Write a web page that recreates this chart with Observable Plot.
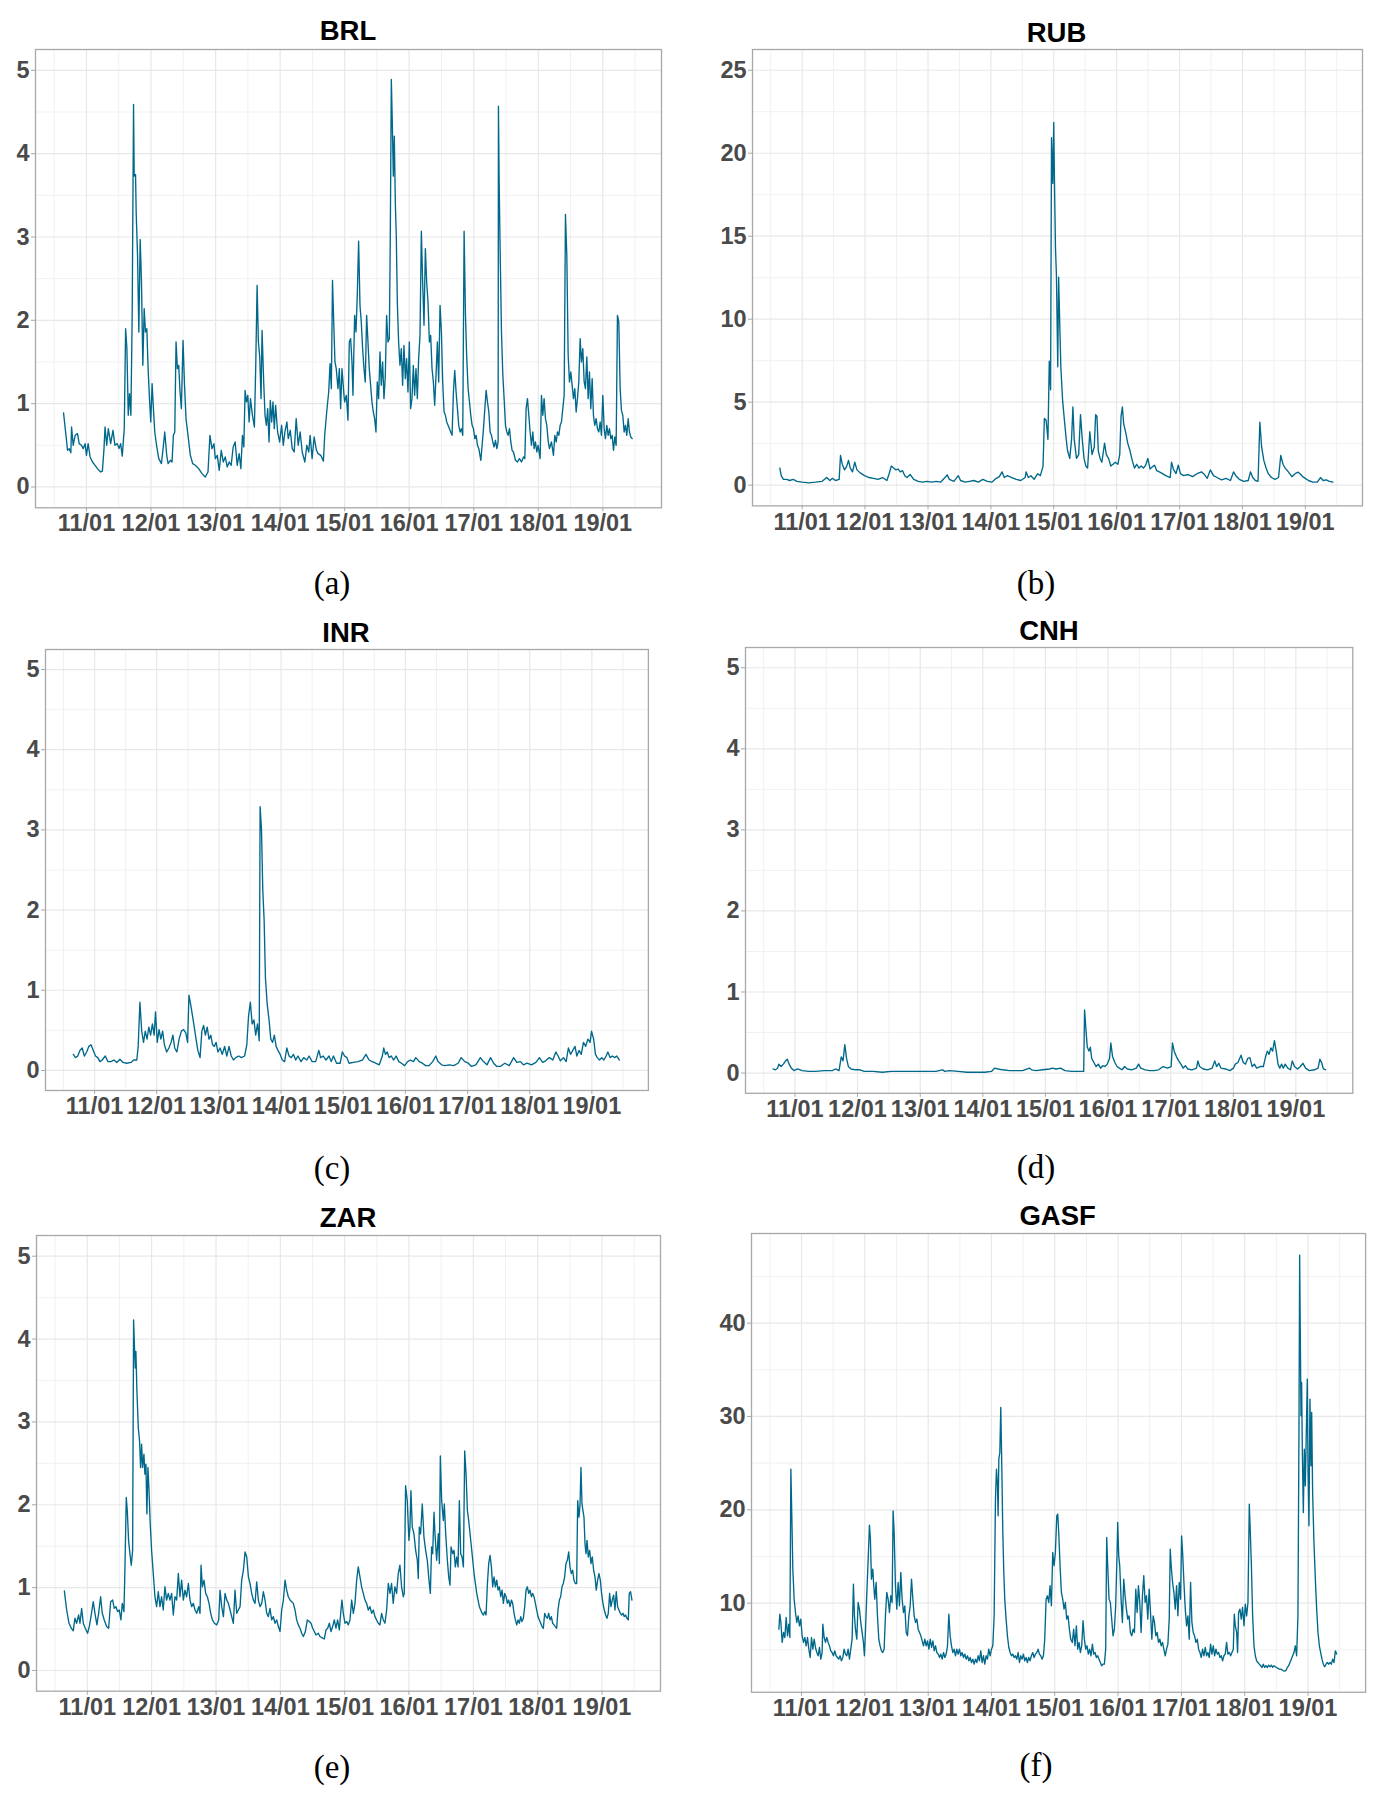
<!DOCTYPE html>
<html>
<head>
<meta charset="utf-8">
<script src="https://cdn.jsdelivr.net/npm/d3@7"></script>
<script src="https://cdn.jsdelivr.net/npm/@observablehq/plot@0.6"></script>
<style>
  body { margin: 0; background: #fff; }
  #page { position: relative; width: 1390px; height: 1799px; background: #fff; overflow: hidden; }
  .panel { position: absolute; }
  .title { position: absolute; transform: translate(-50%, -50%); font-family: "Liberation Sans", Arial, sans-serif; font-weight: bold; font-size: 27.5px; line-height: 1; color: #000; white-space: nowrap; }
  .tag { position: absolute; transform: translate(-50%, -50%); font-family: "Liberation Serif", "Times New Roman", serif; font-size: 33px; line-height: 1; color: #000; white-space: nowrap; }
</style>
</head>
<body>
<div id="page"></div>
<script>
// ---- data: [decimal year, value] ----
const BRL = [[2010.645,0.89],[2010.671,0.70],[2010.707,0.44],[2010.733,0.46],[2010.758,0.41],[2010.769,0.72],[2010.794,0.50],[2010.825,0.62],[2010.861,0.64],[2010.887,0.52],[2010.923,0.50],[2010.949,0.46],[2010.979,0.52],[2011.000,0.38],[2011.026,0.52],[2011.057,0.36],[2011.093,0.30],[2011.134,0.26],[2011.170,0.22],[2011.221,0.18],[2011.247,0.19],[2011.272,0.46],[2011.288,0.72],[2011.314,0.50],[2011.339,0.70],[2011.375,0.52],[2011.411,0.68],[2011.442,0.50],[2011.478,0.52],[2011.504,0.46],[2011.530,0.52],[2011.555,0.37],[2011.586,0.70],[2011.607,1.90],[2011.627,1.66],[2011.648,0.86],[2011.668,1.12],[2011.689,0.86],[2011.709,2.06],[2011.730,4.59],[2011.740,3.73],[2011.761,3.75],[2011.771,3.29],[2011.792,2.78],[2011.812,1.86],[2011.833,2.97],[2011.853,2.46],[2011.874,1.46],[2011.895,2.14],[2011.915,1.86],[2011.936,1.90],[2011.956,1.42],[2011.977,1.06],[2011.997,0.78],[2012.018,1.24],[2012.038,0.94],[2012.059,0.66],[2012.090,0.48],[2012.121,0.34],[2012.162,0.28],[2012.193,0.50],[2012.213,0.66],[2012.244,0.38],[2012.265,0.28],[2012.301,0.32],[2012.326,0.30],[2012.347,0.62],[2012.368,0.66],[2012.388,1.74],[2012.409,1.42],[2012.429,1.46],[2012.450,1.14],[2012.470,0.94],[2012.496,1.76],[2012.517,1.26],[2012.542,0.82],[2012.573,0.62],[2012.609,0.38],[2012.645,0.28],[2012.686,0.26],[2012.738,0.22],[2012.789,0.16],[2012.840,0.12],[2012.882,0.18],[2012.912,0.62],[2012.943,0.46],[2012.974,0.52],[2012.995,0.34],[2013.026,0.38],[2013.056,0.20],[2013.087,0.44],[2013.118,0.30],[2013.149,0.36],[2013.180,0.24],[2013.211,0.30],[2013.241,0.26],[2013.272,0.48],[2013.303,0.54],[2013.334,0.26],[2013.365,0.40],[2013.391,0.22],[2013.416,0.62],[2013.437,0.48],[2013.457,1.16],[2013.478,1.02],[2013.499,1.10],[2013.519,0.78],[2013.540,1.06],[2013.571,0.86],[2013.601,0.72],[2013.622,1.46],[2013.643,2.42],[2013.663,1.74],[2013.684,1.56],[2013.704,1.06],[2013.720,1.88],[2013.745,1.26],[2013.766,0.86],[2013.787,0.74],[2013.807,0.94],[2013.828,0.54],[2013.848,1.04],[2013.869,0.78],[2013.889,1.02],[2013.910,0.70],[2013.930,0.98],[2013.961,0.66],[2013.992,0.54],[2014.023,0.74],[2014.049,0.50],[2014.074,0.66],[2014.105,0.78],[2014.126,0.58],[2014.157,0.68],[2014.188,0.46],[2014.218,0.42],[2014.249,0.82],[2014.280,0.50],[2014.311,0.66],[2014.342,0.42],[2014.383,0.30],[2014.414,0.50],[2014.444,0.42],[2014.465,0.62],[2014.496,0.34],[2014.527,0.60],[2014.563,0.44],[2014.588,0.40],[2014.630,0.38],[2014.671,0.31],[2014.691,0.62],[2014.722,0.90],[2014.753,1.14],[2014.774,1.48],[2014.794,1.18],[2014.812,2.48],[2014.830,2.00],[2014.850,1.50],[2014.870,1.42],[2014.897,1.18],[2014.918,1.42],[2014.938,0.94],[2014.959,1.42],[2014.990,1.10],[2015.000,1.02],[2015.026,1.10],[2015.052,0.80],[2015.072,1.74],[2015.093,1.78],[2015.114,1.50],[2015.129,1.10],[2015.155,2.06],[2015.176,1.86],[2015.196,2.30],[2015.217,2.95],[2015.238,2.18],[2015.258,1.98],[2015.279,1.66],[2015.300,1.42],[2015.320,1.26],[2015.341,2.06],[2015.362,1.74],[2015.382,1.42],[2015.403,1.22],[2015.424,1.02],[2015.444,0.90],[2015.465,0.82],[2015.486,0.66],[2015.506,1.26],[2015.527,1.06],[2015.548,1.62],[2015.568,1.22],[2015.589,1.50],[2015.610,1.06],[2015.630,1.32],[2015.651,2.06],[2015.672,1.74],[2015.693,1.78],[2015.708,3.01],[2015.724,4.89],[2015.739,4.37],[2015.755,3.73],[2015.770,4.21],[2015.786,3.41],[2015.801,3.01],[2015.817,2.22],[2015.837,1.74],[2015.858,1.46],[2015.879,1.66],[2015.899,1.22],[2015.920,1.70],[2015.941,1.30],[2015.961,1.54],[2015.982,1.14],[2016.003,1.74],[2016.023,0.94],[2016.044,1.06],[2016.065,1.46],[2016.085,1.10],[2016.106,1.42],[2016.127,1.06],[2016.147,1.54],[2016.168,1.82],[2016.189,3.07],[2016.209,2.46],[2016.230,1.94],[2016.251,2.86],[2016.271,2.46],[2016.292,2.22],[2016.313,1.74],[2016.333,1.82],[2016.354,1.42],[2016.375,1.26],[2016.395,0.98],[2016.416,1.34],[2016.437,1.74],[2016.457,1.26],[2016.478,2.18],[2016.499,1.86],[2016.519,1.26],[2016.540,0.90],[2016.561,0.86],[2016.581,0.78],[2016.602,0.74],[2016.623,0.70],[2016.643,0.66],[2016.664,0.62],[2016.685,1.14],[2016.705,1.40],[2016.726,1.14],[2016.747,0.94],[2016.767,0.74],[2016.788,0.66],[2016.809,0.70],[2016.829,0.62],[2016.850,3.07],[2016.871,2.06],[2016.891,1.54],[2016.912,1.18],[2016.933,1.02],[2016.953,0.86],[2016.974,0.74],[2016.995,0.70],[2017.016,0.58],[2017.036,0.62],[2017.057,0.50],[2017.078,0.46],[2017.109,0.32],[2017.129,0.50],[2017.150,0.70],[2017.171,0.94],[2017.191,1.16],[2017.212,1.02],[2017.233,0.90],[2017.253,0.66],[2017.274,0.62],[2017.295,0.54],[2017.315,0.48],[2017.336,0.56],[2017.357,0.46],[2017.377,0.54],[2017.382,4.57],[2017.393,3.65],[2017.408,2.85],[2017.429,1.86],[2017.450,1.34],[2017.470,1.06],[2017.491,0.74],[2017.512,0.66],[2017.532,0.62],[2017.553,0.70],[2017.574,0.54],[2017.594,0.44],[2017.615,0.42],[2017.646,0.32],[2017.677,0.30],[2017.708,0.34],[2017.739,0.30],[2017.770,0.36],[2017.791,0.34],[2017.811,0.94],[2017.832,1.06],[2017.853,0.86],[2017.873,0.66],[2017.894,0.50],[2017.915,0.66],[2017.935,0.46],[2017.956,0.54],[2017.977,0.42],[2017.997,0.50],[2018.028,0.34],[2018.049,1.10],[2018.070,0.86],[2018.090,1.06],[2018.111,0.82],[2018.132,0.74],[2018.152,0.56],[2018.173,0.46],[2018.204,0.54],[2018.235,0.38],[2018.256,0.62],[2018.277,0.54],[2018.297,0.66],[2018.318,0.62],[2018.339,0.74],[2018.359,0.78],[2018.380,0.94],[2018.401,1.10],[2018.421,3.27],[2018.442,2.78],[2018.463,1.58],[2018.483,1.26],[2018.504,1.38],[2018.525,1.22],[2018.545,1.06],[2018.566,1.18],[2018.587,0.90],[2018.607,1.06],[2018.628,1.26],[2018.649,1.78],[2018.669,1.50],[2018.690,1.66],[2018.711,1.26],[2018.731,1.18],[2018.752,1.56],[2018.773,1.06],[2018.793,1.38],[2018.814,0.94],[2018.835,1.30],[2018.855,0.86],[2018.876,0.74],[2018.897,0.82],[2018.917,0.70],[2018.938,0.66],[2018.959,0.78],[2018.979,0.62],[2019.000,1.10],[2019.021,0.70],[2019.041,0.58],[2019.062,0.74],[2019.083,0.62],[2019.103,0.70],[2019.124,0.58],[2019.145,0.62],[2019.166,0.44],[2019.186,0.60],[2019.207,0.50],[2019.227,2.06],[2019.248,1.98],[2019.269,1.18],[2019.289,0.92],[2019.310,0.86],[2019.331,0.66],[2019.351,0.74],[2019.372,0.62],[2019.393,0.82],[2019.413,0.66],[2019.434,0.60],[2019.455,0.58]];

const RUB = [[2010.645,1.03],[2010.667,0.57],[2010.702,0.35],[2010.752,0.35],[2010.801,0.28],[2010.858,0.35],[2010.915,0.23],[2011.000,0.18],[2011.106,0.14],[2011.213,0.18],[2011.319,0.23],[2011.390,0.46],[2011.440,0.28],[2011.482,0.41],[2011.532,0.28],[2011.589,0.35],[2011.610,1.79],[2011.638,1.26],[2011.674,0.92],[2011.709,1.15],[2011.738,1.49],[2011.766,1.03],[2011.801,0.80],[2011.837,1.38],[2011.872,0.92],[2011.922,0.74],[2011.993,0.57],[2012.064,0.46],[2012.135,0.41],[2012.206,0.35],[2012.277,0.46],[2012.348,0.28],[2012.383,0.69],[2012.418,1.15],[2012.454,1.03],[2012.489,0.92],[2012.525,0.97],[2012.560,0.80],[2012.596,0.87],[2012.631,0.57],[2012.667,0.46],[2012.716,0.64],[2012.773,0.35],[2012.844,0.23],[2012.915,0.18],[2012.986,0.23],[2013.057,0.18],[2013.128,0.23],[2013.199,0.18],[2013.270,0.46],[2013.305,0.62],[2013.340,0.35],[2013.411,0.23],[2013.482,0.57],[2013.518,0.28],[2013.589,0.18],[2013.660,0.23],[2013.730,0.28],[2013.801,0.18],[2013.872,0.35],[2013.943,0.23],[2014.014,0.18],[2014.085,0.41],[2014.135,0.51],[2014.177,0.80],[2014.213,0.46],[2014.262,0.57],[2014.333,0.46],[2014.404,0.35],[2014.475,0.28],[2014.546,0.46],[2014.560,0.80],[2014.596,0.46],[2014.638,0.57],[2014.688,0.35],[2014.745,0.69],[2014.787,0.57],[2014.830,1.15],[2014.851,4.02],[2014.879,3.91],[2014.908,2.76],[2014.929,7.47],[2014.950,5.75],[2014.965,20.93],[2014.986,18.17],[2015.000,21.85],[2015.014,17.71],[2015.028,14.26],[2015.043,12.65],[2015.064,7.13],[2015.078,12.53],[2015.099,9.20],[2015.113,7.13],[2015.142,5.06],[2015.170,3.91],[2015.199,2.76],[2015.220,2.07],[2015.255,1.61],[2015.284,2.76],[2015.305,4.71],[2015.326,2.76],[2015.362,1.61],[2015.397,1.84],[2015.426,4.25],[2015.454,2.76],[2015.482,1.61],[2015.511,1.15],[2015.539,1.03],[2015.574,3.22],[2015.610,1.84],[2015.645,2.30],[2015.667,4.25],[2015.688,4.14],[2015.709,2.07],[2015.738,1.61],[2015.766,1.38],[2015.809,2.53],[2015.837,1.84],[2015.872,1.61],[2015.908,1.15],[2015.943,1.26],[2015.979,1.38],[2016.021,1.26],[2016.050,1.84],[2016.071,4.14],[2016.092,4.71],[2016.113,3.68],[2016.142,3.22],[2016.177,2.53],[2016.213,2.07],[2016.248,1.49],[2016.284,1.03],[2016.319,1.26],[2016.355,1.03],[2016.390,1.15],[2016.426,1.03],[2016.461,1.20],[2016.496,1.61],[2016.532,0.97],[2016.567,1.10],[2016.603,1.20],[2016.638,0.87],[2016.709,0.74],[2016.780,0.57],[2016.851,0.46],[2016.872,1.38],[2016.901,0.97],[2016.943,0.69],[2016.979,1.20],[2017.014,0.69],[2017.064,0.57],[2017.135,0.64],[2017.206,0.51],[2017.277,0.69],[2017.348,0.80],[2017.383,0.69],[2017.440,0.41],[2017.489,0.92],[2017.539,0.57],[2017.596,0.46],[2017.667,0.32],[2017.738,0.41],[2017.809,0.28],[2017.858,0.80],[2017.894,0.57],[2017.950,0.35],[2018.021,0.23],[2018.092,0.28],[2018.128,0.80],[2018.163,0.46],[2018.206,0.28],[2018.248,0.23],[2018.277,3.80],[2018.305,2.30],[2018.340,1.49],[2018.376,1.03],[2018.411,0.69],[2018.461,0.46],[2018.518,0.35],[2018.574,0.46],[2018.610,1.79],[2018.645,1.26],[2018.681,1.03],[2018.730,0.80],[2018.787,0.51],[2018.837,0.69],[2018.887,0.78],[2018.929,0.64],[2018.957,0.51],[2019.000,0.41],[2019.050,0.28],[2019.121,0.18],[2019.191,0.18],[2019.241,0.46],[2019.284,0.28],[2019.333,0.32],[2019.383,0.23],[2019.440,0.18]];

const INR = [[2010.657,0.20],[2010.693,0.16],[2010.729,0.18],[2010.764,0.25],[2010.800,0.28],[2010.836,0.18],[2010.872,0.23],[2010.907,0.30],[2010.943,0.32],[2010.979,0.25],[2011.015,0.18],[2011.051,0.16],[2011.086,0.11],[2011.122,0.13],[2011.172,0.18],[2011.215,0.11],[2011.265,0.11],[2011.315,0.13],[2011.358,0.10],[2011.408,0.14],[2011.458,0.10],[2011.516,0.09],[2011.587,0.10],[2011.630,0.13],[2011.680,0.13],[2011.702,0.30],[2011.730,0.85],[2011.759,0.49],[2011.788,0.35],[2011.816,0.49],[2011.845,0.39],[2011.873,0.54],[2011.902,0.44],[2011.931,0.58],[2011.959,0.44],[2011.981,0.73],[2012.009,0.35],[2012.038,0.51],[2012.067,0.39],[2012.095,0.49],[2012.124,0.32],[2012.160,0.23],[2012.196,0.28],[2012.231,0.35],[2012.260,0.44],[2012.289,0.28],[2012.324,0.23],[2012.360,0.39],[2012.396,0.49],[2012.432,0.51],[2012.467,0.47],[2012.496,0.35],[2012.518,0.94],[2012.546,0.82],[2012.575,0.68],[2012.603,0.54],[2012.632,0.39],[2012.661,0.25],[2012.696,0.16],[2012.725,0.49],[2012.754,0.56],[2012.782,0.44],[2012.811,0.54],[2012.840,0.39],[2012.868,0.44],[2012.897,0.32],[2012.925,0.30],[2012.954,0.35],[2012.983,0.23],[2013.018,0.28],[2013.054,0.20],[2013.090,0.30],[2013.126,0.18],[2013.162,0.30],[2013.197,0.18],[2013.233,0.13],[2013.269,0.16],[2013.319,0.18],[2013.362,0.16],[2013.412,0.18],[2013.448,0.32],[2013.476,0.68],[2013.505,0.85],[2013.534,0.58],[2013.562,0.63],[2013.591,0.44],[2013.620,0.58],[2013.648,0.37],[2013.662,3.29],[2013.684,3.01],[2013.705,2.25],[2013.727,1.87],[2013.748,1.15],[2013.777,0.82],[2013.806,0.63],[2013.834,0.39],[2013.863,0.35],[2013.891,0.44],[2013.920,0.30],[2013.949,0.25],[2013.985,0.20],[2014.020,0.13],[2014.056,0.11],[2014.092,0.28],[2014.128,0.18],[2014.163,0.16],[2014.199,0.20],[2014.235,0.13],[2014.271,0.18],[2014.321,0.11],[2014.364,0.16],[2014.414,0.13],[2014.450,0.18],[2014.500,0.11],[2014.557,0.11],[2014.607,0.25],[2014.636,0.16],[2014.679,0.18],[2014.722,0.13],[2014.772,0.18],[2014.807,0.11],[2014.843,0.18],[2014.893,0.09],[2014.951,0.09],[2014.986,0.23],[2015.022,0.18],[2015.058,0.16],[2015.094,0.09],[2015.165,0.10],[2015.237,0.11],[2015.308,0.13],[2015.366,0.20],[2015.416,0.13],[2015.466,0.11],[2015.523,0.09],[2015.580,0.07],[2015.630,0.18],[2015.652,0.28],[2015.680,0.20],[2015.709,0.23],[2015.738,0.16],[2015.774,0.18],[2015.809,0.13],[2015.852,0.18],[2015.895,0.11],[2015.938,0.09],[2015.988,0.06],[2016.038,0.11],[2016.081,0.13],[2016.131,0.11],[2016.167,0.16],[2016.224,0.11],[2016.274,0.09],[2016.325,0.06],[2016.382,0.06],[2016.439,0.11],[2016.489,0.18],[2016.525,0.11],[2016.582,0.07],[2016.632,0.06],[2016.704,0.07],[2016.775,0.06],[2016.847,0.09],[2016.897,0.16],[2016.954,0.11],[2017.011,0.09],[2017.062,0.05],[2017.133,0.07],[2017.205,0.16],[2017.255,0.11],[2017.312,0.07],[2017.369,0.16],[2017.419,0.09],[2017.469,0.05],[2017.527,0.05],[2017.598,0.09],[2017.670,0.06],[2017.741,0.16],[2017.791,0.10],[2017.849,0.11],[2017.899,0.07],[2017.956,0.09],[2018.028,0.07],[2018.099,0.10],[2018.156,0.16],[2018.207,0.10],[2018.257,0.12],[2018.314,0.16],[2018.371,0.13],[2018.421,0.23],[2018.457,0.18],[2018.493,0.12],[2018.543,0.16],[2018.586,0.11],[2018.622,0.28],[2018.657,0.20],[2018.693,0.25],[2018.729,0.30],[2018.758,0.18],[2018.793,0.25],[2018.829,0.20],[2018.865,0.35],[2018.901,0.30],[2018.936,0.39],[2018.972,0.35],[2018.994,0.49],[2019.029,0.39],[2019.058,0.20],[2019.087,0.16],[2019.123,0.13],[2019.158,0.16],[2019.194,0.13],[2019.230,0.18],[2019.258,0.23],[2019.294,0.16],[2019.330,0.18],[2019.366,0.16],[2019.401,0.18],[2019.444,0.13]];

const CNH = [[2010.651,0.05],[2010.687,0.04],[2010.722,0.06],[2010.744,0.11],[2010.779,0.08],[2010.815,0.11],[2010.850,0.15],[2010.879,0.17],[2010.907,0.11],[2010.943,0.06],[2010.986,0.03],[2011.043,0.05],[2011.114,0.03],[2011.221,0.02],[2011.327,0.02],[2011.470,0.03],[2011.598,0.03],[2011.648,0.05],[2011.705,0.03],[2011.740,0.20],[2011.769,0.15],[2011.797,0.35],[2011.825,0.18],[2011.854,0.08],[2011.897,0.05],[2011.968,0.04],[2012.039,0.04],[2012.110,0.02],[2012.253,0.02],[2012.395,0.01],[2012.537,0.02],[2012.680,0.02],[2012.822,0.02],[2012.964,0.02],[2013.107,0.02],[2013.249,0.02],[2013.356,0.04],[2013.391,0.02],[2013.462,0.03],[2013.605,0.02],[2013.747,0.01],[2013.890,0.01],[2014.032,0.01],[2014.138,0.02],[2014.188,0.06],[2014.245,0.05],[2014.316,0.04],[2014.423,0.03],[2014.530,0.03],[2014.637,0.03],[2014.743,0.06],[2014.779,0.04],[2014.850,0.03],[2014.957,0.04],[2015.064,0.05],[2015.113,0.06],[2015.170,0.05],[2015.242,0.06],[2015.313,0.03],[2015.419,0.02],[2015.526,0.02],[2015.612,0.02],[2015.626,0.78],[2015.647,0.55],[2015.669,0.32],[2015.697,0.27],[2015.718,0.32],[2015.740,0.18],[2015.775,0.13],[2015.811,0.08],[2015.846,0.11],[2015.882,0.06],[2015.918,0.09],[2015.953,0.08],[2015.989,0.11],[2016.025,0.18],[2016.046,0.37],[2016.074,0.20],[2016.110,0.13],[2016.145,0.08],[2016.181,0.06],[2016.224,0.04],[2016.266,0.08],[2016.309,0.05],[2016.380,0.04],[2016.452,0.06],[2016.487,0.11],[2016.523,0.06],[2016.594,0.04],[2016.665,0.03],[2016.736,0.03],[2016.807,0.04],[2016.879,0.08],[2016.950,0.06],[2017.007,0.08],[2017.028,0.37],[2017.056,0.27],[2017.092,0.20],[2017.128,0.15],[2017.163,0.11],[2017.199,0.06],[2017.234,0.09],[2017.270,0.05],[2017.341,0.04],[2017.412,0.06],[2017.434,0.15],[2017.462,0.08],[2017.519,0.05],[2017.590,0.04],[2017.662,0.06],[2017.704,0.15],[2017.733,0.08],[2017.768,0.12],[2017.804,0.06],[2017.875,0.05],[2017.946,0.03],[2018.003,0.06],[2018.032,0.11],[2018.074,0.13],[2018.124,0.22],[2018.159,0.13],[2018.195,0.11],[2018.231,0.18],[2018.266,0.19],[2018.302,0.08],[2018.337,0.11],[2018.373,0.06],[2018.430,0.08],[2018.480,0.08],[2018.516,0.20],[2018.544,0.27],[2018.572,0.23],[2018.601,0.31],[2018.629,0.27],[2018.658,0.40],[2018.686,0.27],[2018.715,0.11],[2018.743,0.06],[2018.772,0.11],[2018.800,0.06],[2018.829,0.11],[2018.871,0.06],[2018.914,0.04],[2018.943,0.15],[2018.978,0.08],[2019.028,0.05],[2019.071,0.08],[2019.113,0.12],[2019.156,0.06],[2019.213,0.03],[2019.298,0.04],[2019.355,0.06],[2019.384,0.17],[2019.412,0.13],[2019.440,0.05],[2019.476,0.04]];

const ZAR = [[2010.643,0.96],[2010.679,0.73],[2010.715,0.57],[2010.751,0.51],[2010.782,0.48],[2010.808,0.63],[2010.834,0.57],[2010.865,0.67],[2010.886,0.57],[2010.912,0.75],[2010.938,0.57],[2010.969,0.51],[2011.005,0.45],[2011.031,0.53],[2011.057,0.65],[2011.093,0.83],[2011.119,0.69],[2011.150,0.55],[2011.176,0.69],[2011.207,0.89],[2011.233,0.69],[2011.264,0.61],[2011.301,0.53],[2011.332,0.51],[2011.363,0.83],[2011.394,0.85],[2011.420,0.75],[2011.446,0.77],[2011.471,0.71],[2011.497,0.73],[2011.523,0.61],[2011.544,0.81],[2011.570,0.71],[2011.585,1.21],[2011.606,2.09],[2011.622,1.93],[2011.642,1.57],[2011.663,1.41],[2011.684,1.27],[2011.705,1.45],[2011.720,4.23],[2011.736,3.85],[2011.746,3.65],[2011.756,3.85],[2011.772,3.37],[2011.793,2.93],[2011.813,2.77],[2011.829,2.45],[2011.845,2.73],[2011.860,2.45],[2011.881,2.61],[2011.896,2.37],[2011.912,2.49],[2011.927,1.89],[2011.943,2.45],[2011.958,2.21],[2011.979,1.77],[2012.000,1.45],[2012.026,1.17],[2012.052,0.89],[2012.078,0.77],[2012.104,0.95],[2012.130,0.77],[2012.155,0.89],[2012.181,0.73],[2012.207,1.01],[2012.233,0.85],[2012.259,0.93],[2012.285,0.85],[2012.311,0.93],[2012.337,0.67],[2012.363,0.89],[2012.389,0.85],[2012.415,1.17],[2012.440,0.89],[2012.466,1.09],[2012.492,0.85],[2012.518,0.97],[2012.544,0.89],[2012.570,1.05],[2012.596,0.85],[2012.622,0.77],[2012.648,0.81],[2012.674,0.73],[2012.699,0.69],[2012.731,0.77],[2012.751,0.69],[2012.767,1.27],[2012.788,1.01],[2012.813,1.09],[2012.839,0.93],[2012.865,0.89],[2012.891,0.81],[2012.917,0.69],[2012.943,0.61],[2012.974,0.57],[2013.010,0.55],[2013.041,0.61],[2013.062,0.97],[2013.088,0.77],[2013.114,0.65],[2013.140,0.93],[2013.166,0.85],[2013.192,0.81],[2013.218,0.73],[2013.243,0.65],[2013.269,0.57],[2013.295,0.97],[2013.321,0.69],[2013.347,0.73],[2013.373,0.77],[2013.399,1.09],[2013.425,1.21],[2013.451,1.43],[2013.477,1.37],[2013.503,1.13],[2013.528,1.05],[2013.554,0.93],[2013.580,0.85],[2013.606,0.81],[2013.632,1.07],[2013.658,0.85],[2013.684,0.77],[2013.710,0.81],[2013.736,0.95],[2013.762,0.85],[2013.788,0.69],[2013.813,0.65],[2013.839,0.75],[2013.865,0.61],[2013.891,0.65],[2013.917,0.57],[2013.943,0.61],[2013.969,0.53],[2013.995,0.47],[2014.021,0.73],[2014.047,0.85],[2014.073,1.09],[2014.098,0.97],[2014.124,0.89],[2014.150,0.85],[2014.176,0.83],[2014.202,0.81],[2014.228,0.73],[2014.254,0.61],[2014.280,0.55],[2014.306,0.51],[2014.332,0.45],[2014.358,0.41],[2014.389,0.47],[2014.420,0.61],[2014.451,0.59],[2014.477,0.57],[2014.503,0.51],[2014.528,0.47],[2014.554,0.43],[2014.591,0.45],[2014.616,0.41],[2014.658,0.39],[2014.684,0.38],[2014.710,0.49],[2014.736,0.51],[2014.762,0.57],[2014.788,0.47],[2014.813,0.53],[2014.839,0.61],[2014.865,0.51],[2014.891,0.61],[2014.917,0.49],[2014.943,0.73],[2014.958,0.85],[2014.979,0.69],[2015.005,0.57],[2015.031,0.59],[2015.057,0.55],[2015.083,0.61],[2015.109,0.85],[2015.135,0.69],[2015.161,0.81],[2015.187,1.09],[2015.212,1.25],[2015.238,1.13],[2015.264,1.01],[2015.290,0.93],[2015.316,0.85],[2015.342,0.81],[2015.368,0.73],[2015.394,0.77],[2015.420,0.69],[2015.446,0.73],[2015.471,0.65],[2015.497,0.61],[2015.523,0.57],[2015.549,0.55],[2015.575,0.69],[2015.601,0.61],[2015.627,0.57],[2015.653,0.73],[2015.679,1.05],[2015.705,0.93],[2015.730,1.05],[2015.756,0.81],[2015.782,1.01],[2015.808,0.93],[2015.834,1.17],[2015.860,1.27],[2015.886,1.01],[2015.912,0.89],[2015.927,0.93],[2015.948,2.23],[2015.974,2.05],[2016.000,1.57],[2016.016,1.73],[2016.031,2.17],[2016.052,1.73],[2016.078,1.65],[2016.104,1.45],[2016.130,1.33],[2016.145,1.11],[2016.161,1.73],[2016.181,1.65],[2016.207,2.01],[2016.233,1.61],[2016.259,1.45],[2016.285,1.33],[2016.311,1.09],[2016.332,0.93],[2016.352,1.49],[2016.368,1.41],[2016.389,1.91],[2016.404,1.65],[2016.430,1.33],[2016.456,1.65],[2016.472,1.29],[2016.487,2.59],[2016.508,2.05],[2016.534,1.81],[2016.549,2.01],[2016.570,1.65],[2016.596,1.33],[2016.617,1.13],[2016.637,1.03],[2016.653,1.49],[2016.679,1.41],[2016.699,1.45],[2016.720,1.25],[2016.741,1.37],[2016.762,1.25],[2016.782,2.05],[2016.803,1.41],[2016.824,1.37],[2016.845,1.25],[2016.865,2.65],[2016.886,2.37],[2016.907,1.93],[2016.927,1.81],[2016.948,1.65],[2016.969,1.49],[2016.990,1.33],[2017.010,1.17],[2017.031,1.05],[2017.052,0.93],[2017.072,0.85],[2017.093,0.77],[2017.114,0.73],[2017.135,0.69],[2017.155,0.67],[2017.176,0.71],[2017.197,0.67],[2017.218,1.05],[2017.238,1.29],[2017.259,1.39],[2017.280,1.25],[2017.300,1.01],[2017.321,1.13],[2017.342,1.01],[2017.363,1.09],[2017.383,0.97],[2017.404,1.01],[2017.425,0.89],[2017.446,0.97],[2017.466,0.81],[2017.487,0.93],[2017.508,0.89],[2017.528,0.81],[2017.549,0.85],[2017.570,0.77],[2017.591,0.85],[2017.611,0.81],[2017.632,0.69],[2017.653,0.61],[2017.674,0.55],[2017.694,0.61],[2017.715,0.57],[2017.736,0.65],[2017.756,0.59],[2017.777,0.63],[2017.798,0.77],[2017.819,0.97],[2017.839,1.01],[2017.860,0.93],[2017.881,0.97],[2017.902,0.89],[2017.922,0.93],[2017.943,0.89],[2017.964,0.81],[2017.984,0.73],[2018.005,0.65],[2018.026,0.61],[2018.047,0.57],[2018.067,0.53],[2018.088,0.51],[2018.109,0.69],[2018.129,0.65],[2018.150,0.63],[2018.171,0.69],[2018.192,0.61],[2018.212,0.65],[2018.233,0.57],[2018.254,0.55],[2018.274,0.53],[2018.295,0.51],[2018.316,0.73],[2018.337,0.85],[2018.357,0.89],[2018.378,1.01],[2018.399,1.05],[2018.419,1.13],[2018.440,1.29],[2018.461,1.33],[2018.482,1.43],[2018.502,1.25],[2018.523,1.17],[2018.544,1.21],[2018.564,1.09],[2018.585,1.05],[2018.606,1.05],[2018.622,2.05],[2018.642,1.85],[2018.658,1.99],[2018.673,2.45],[2018.689,2.01],[2018.704,1.93],[2018.720,1.85],[2018.736,1.53],[2018.751,1.41],[2018.767,1.57],[2018.787,1.37],[2018.808,1.45],[2018.829,1.29],[2018.849,1.37],[2018.870,1.21],[2018.891,1.13],[2018.911,0.97],[2018.932,1.09],[2018.953,1.17],[2018.974,1.09],[2018.994,0.93],[2019.015,0.81],[2019.036,0.73],[2019.057,0.67],[2019.077,0.63],[2019.098,0.69],[2019.119,0.93],[2019.139,0.77],[2019.160,0.85],[2019.181,0.91],[2019.202,0.73],[2019.222,0.95],[2019.243,0.77],[2019.264,0.73],[2019.285,0.69],[2019.305,0.67],[2019.326,0.69],[2019.347,0.65],[2019.367,0.67],[2019.388,0.63],[2019.409,0.61],[2019.424,0.93],[2019.445,0.95],[2019.466,0.85]];

const GASF = [[2010.642,7.21],[2010.658,8.82],[2010.674,7.93],[2010.695,5.79],[2010.716,6.86],[2010.737,6.32],[2010.758,8.46],[2010.779,6.50],[2010.800,7.75],[2010.816,6.32],[2010.832,24.36],[2010.847,19.36],[2010.863,13.64],[2010.884,10.43],[2010.905,9.00],[2010.926,7.93],[2010.947,8.64],[2010.968,7.57],[2010.989,8.29],[2011.010,6.50],[2011.032,5.79],[2011.053,6.32],[2011.074,5.43],[2011.095,6.32],[2011.116,5.07],[2011.137,4.18],[2011.158,6.32],[2011.179,5.07],[2011.200,6.14],[2011.221,5.25],[2011.242,4.71],[2011.263,4.36],[2011.284,5.25],[2011.305,4.00],[2011.326,4.71],[2011.337,7.75],[2011.358,6.32],[2011.379,5.79],[2011.400,6.32],[2011.421,5.79],[2011.442,5.43],[2011.463,4.89],[2011.484,4.71],[2011.505,4.36],[2011.526,4.89],[2011.547,4.36],[2011.568,4.18],[2011.589,4.00],[2011.610,4.36],[2011.631,3.82],[2011.653,4.18],[2011.674,5.07],[2011.695,4.54],[2011.716,4.36],[2011.737,5.07],[2011.758,4.00],[2011.779,5.07],[2011.800,6.14],[2011.821,12.04],[2011.837,8.64],[2011.853,7.21],[2011.874,6.14],[2011.895,10.07],[2011.916,9.36],[2011.937,7.93],[2011.958,6.86],[2011.979,5.79],[2011.995,4.36],[2012.010,6.86],[2012.031,10.79],[2012.052,14.36],[2012.074,18.36],[2012.089,16.86],[2012.105,12.57],[2012.126,13.64],[2012.142,11.86],[2012.158,10.43],[2012.179,12.21],[2012.200,8.64],[2012.221,6.14],[2012.242,5.43],[2012.263,4.89],[2012.284,4.71],[2012.305,5.07],[2012.326,8.64],[2012.347,11.14],[2012.368,10.43],[2012.389,9.00],[2012.410,10.79],[2012.431,10.07],[2012.447,19.89],[2012.463,17.57],[2012.484,11.86],[2012.505,9.36],[2012.526,12.21],[2012.547,9.71],[2012.568,13.29],[2012.589,10.43],[2012.610,9.00],[2012.631,9.71],[2012.653,6.86],[2012.674,6.50],[2012.695,8.64],[2012.716,9.71],[2012.737,12.57],[2012.758,10.43],[2012.779,8.64],[2012.800,7.93],[2012.821,8.29],[2012.842,7.21],[2012.863,6.86],[2012.884,6.50],[2012.905,5.96],[2012.926,5.43],[2012.947,6.14],[2012.968,5.43],[2012.989,5.96],[2013.010,5.07],[2013.032,6.14],[2013.053,5.25],[2013.074,5.96],[2013.095,4.89],[2013.116,5.43],[2013.137,4.71],[2013.158,4.54],[2013.179,4.18],[2013.200,4.54],[2013.221,4.00],[2013.242,4.71],[2013.263,4.18],[2013.284,4.54],[2013.305,5.43],[2013.326,8.82],[2013.347,6.50],[2013.368,5.43],[2013.389,4.71],[2013.410,5.07],[2013.431,4.36],[2013.452,5.07],[2013.473,4.54],[2013.494,5.07],[2013.515,4.36],[2013.536,4.71],[2013.558,4.18],[2013.579,4.54],[2013.600,4.00],[2013.621,4.36],[2013.642,3.82],[2013.663,4.18],[2013.684,3.64],[2013.705,4.00],[2013.726,3.46],[2013.747,4.00],[2013.768,3.64],[2013.789,4.36],[2013.810,3.82],[2013.831,4.89],[2013.852,3.64],[2013.873,4.36],[2013.894,3.46],[2013.915,4.36],[2013.936,4.00],[2013.957,5.07],[2013.979,4.36],[2014.000,5.07],[2014.021,5.43],[2014.042,8.64],[2014.063,21.14],[2014.079,24.36],[2014.095,22.57],[2014.105,19.36],[2014.116,25.43],[2014.132,26.14],[2014.147,30.96],[2014.163,24.71],[2014.179,17.57],[2014.195,13.29],[2014.210,10.43],[2014.231,8.29],[2014.252,6.50],[2014.274,5.25],[2014.295,4.71],[2014.316,4.36],[2014.337,4.54],[2014.358,4.18],[2014.379,4.36],[2014.400,4.00],[2014.421,4.71],[2014.442,3.64],[2014.463,4.36],[2014.484,4.00],[2014.505,4.54],[2014.526,3.82],[2014.547,4.18],[2014.568,3.64],[2014.589,4.18],[2014.610,3.82],[2014.631,4.36],[2014.652,4.71],[2014.674,4.18],[2014.695,4.54],[2014.716,4.71],[2014.737,5.07],[2014.758,4.54],[2014.779,4.36],[2014.800,4.00],[2014.821,4.36],[2014.842,6.14],[2014.863,10.43],[2014.884,10.79],[2014.905,10.07],[2014.926,11.86],[2014.947,9.71],[2014.968,15.43],[2014.989,14.00],[2015.010,15.43],[2015.032,19.36],[2015.047,19.54],[2015.063,17.57],[2015.084,14.00],[2015.105,11.14],[2015.126,10.43],[2015.147,9.36],[2015.168,10.07],[2015.189,8.29],[2015.210,8.64],[2015.231,7.21],[2015.252,6.14],[2015.278,5.79],[2015.299,7.21],[2015.320,5.43],[2015.342,7.57],[2015.363,5.07],[2015.384,5.79],[2015.405,4.71],[2015.426,5.43],[2015.447,8.11],[2015.468,6.14],[2015.489,5.07],[2015.510,5.43],[2015.531,4.54],[2015.552,5.07],[2015.573,4.36],[2015.595,5.61],[2015.616,4.54],[2015.637,4.71],[2015.658,4.18],[2015.679,4.36],[2015.700,4.00],[2015.721,3.64],[2015.742,3.29],[2015.763,3.46],[2015.784,3.46],[2015.805,5.07],[2015.821,17.04],[2015.837,14.00],[2015.858,10.43],[2015.879,10.07],[2015.900,8.29],[2015.921,6.50],[2015.942,7.21],[2015.963,9.71],[2015.985,15.43],[2015.995,18.64],[2016.011,15.07],[2016.027,14.00],[2016.048,10.43],[2016.069,7.93],[2016.090,12.57],[2016.111,10.79],[2016.132,9.36],[2016.153,8.29],[2016.174,8.64],[2016.195,6.86],[2016.216,6.50],[2016.238,7.21],[2016.259,6.86],[2016.280,11.50],[2016.301,9.00],[2016.322,11.86],[2016.343,10.07],[2016.364,6.86],[2016.385,10.79],[2016.406,12.93],[2016.427,10.07],[2016.448,10.79],[2016.469,8.29],[2016.491,11.50],[2016.512,9.00],[2016.533,6.14],[2016.554,8.64],[2016.575,7.93],[2016.596,6.50],[2016.617,6.86],[2016.638,5.79],[2016.659,6.14],[2016.680,5.43],[2016.701,5.79],[2016.722,5.07],[2016.744,4.36],[2016.765,5.07],[2016.786,5.61],[2016.807,8.29],[2016.823,15.79],[2016.838,14.00],[2016.860,12.21],[2016.881,11.14],[2016.902,9.36],[2016.923,11.86],[2016.944,8.64],[2016.965,12.21],[2016.986,10.43],[2017.002,17.21],[2017.018,15.43],[2017.039,12.21],[2017.060,9.36],[2017.081,7.57],[2017.102,8.64],[2017.123,6.14],[2017.144,12.21],[2017.165,7.93],[2017.186,6.86],[2017.207,6.50],[2017.228,5.79],[2017.250,6.14],[2017.271,5.07],[2017.292,4.71],[2017.313,4.18],[2017.334,5.07],[2017.355,4.36],[2017.376,5.25],[2017.397,4.36],[2017.418,4.71],[2017.439,4.18],[2017.460,5.61],[2017.481,4.54],[2017.503,5.43],[2017.524,4.36],[2017.545,5.07],[2017.566,4.54],[2017.587,4.71],[2017.608,4.18],[2017.629,4.36],[2017.650,3.82],[2017.671,4.36],[2017.692,4.54],[2017.713,5.79],[2017.734,4.54],[2017.756,4.71],[2017.777,4.36],[2017.798,4.71],[2017.819,5.07],[2017.835,8.82],[2017.851,7.57],[2017.872,6.86],[2017.887,4.71],[2017.903,9.00],[2017.924,9.36],[2017.945,8.29],[2017.966,9.54],[2017.988,7.57],[2018.009,9.89],[2018.030,8.64],[2018.051,10.07],[2018.072,20.61],[2018.088,17.57],[2018.104,14.36],[2018.125,8.64],[2018.146,5.43],[2018.167,4.36],[2018.188,3.82],[2018.209,3.64],[2018.230,3.46],[2018.251,3.29],[2018.272,3.11],[2018.293,3.46],[2018.314,3.11],[2018.335,3.29],[2018.357,3.11],[2018.378,3.36],[2018.399,3.18],[2018.420,3.36],[2018.441,3.11],[2018.462,3.29],[2018.483,3.18],[2018.504,3.11],[2018.525,3.00],[2018.546,2.93],[2018.567,2.93],[2018.589,2.86],[2018.610,2.75],[2018.631,2.71],[2018.652,2.79],[2018.673,3.11],[2018.694,3.29],[2018.715,3.64],[2018.736,4.00],[2018.757,4.36],[2018.778,4.71],[2018.799,5.43],[2018.820,4.36],[2018.841,8.64],[2018.857,28.29],[2018.868,47.29],[2018.878,39.00],[2018.889,30.07],[2018.899,33.64],[2018.910,26.50],[2018.926,19.71],[2018.942,26.50],[2018.958,22.57],[2018.973,28.29],[2018.989,34.00],[2019.000,24.71],[2019.015,18.29],[2019.031,31.86],[2019.047,24.71],[2019.058,30.43],[2019.073,21.86],[2019.094,16.50],[2019.116,12.57],[2019.137,9.36],[2019.158,6.86],[2019.179,5.43],[2019.200,4.71],[2019.221,4.00],[2019.242,3.46],[2019.263,3.18],[2019.284,3.46],[2019.305,3.64],[2019.326,3.46],[2019.347,3.64],[2019.369,3.46],[2019.390,4.00],[2019.411,3.64],[2019.432,4.89],[2019.453,4.54]];

// ---- axis ticks ----
const yearTicks = [2011, 2012, 2013, 2014, 2015, 2016, 2017, 2018, 2019];
const halfYearTicks = [2010.5, 2011.5, 2012.5, 2013.5, 2014.5, 2015.5, 2016.5, 2017.5, 2018.5, 2019.5];
const ticks0to5 = [0, 1, 2, 3, 4, 5];
const minor0to5 = [0.5, 1.5, 2.5, 3.5, 4.5];
const ticksRUB = [0, 5, 10, 15, 20, 25];
const minorRUB = [2.5, 7.5, 12.5, 17.5, 22.5];
const ticksGASF = [10, 20, 30, 40];
const minorGASF = [5, 15, 25, 35, 45];
const xRange = [2010.21, 2019.91];

// decimal year -> UTC Date
function dec(t) {
  const y = Math.floor(t);
  const s = Date.UTC(y, 0, 1), e = Date.UTC(y + 1, 0, 1);
  return new Date(s + (t - y) * (e - s));
}

// ---- layout (page pixel boxes: left, top, right, bottom) ----
const panels = [
  {name: "BRL", data: BRL, y: [-0.25, 5.25], yt: ticks0to5, ym: minor0to5, box: [35, 48.7, 661, 507], ty: 30.6, tag: "(a)", tagXY: [332, 583]},
  {name: "RUB", data: RUB, y: [-1.25, 26.25], yt: ticksRUB, ym: minorRUB, box: [751.5, 49, 1361.5, 505.4], ty: 32.5, tag: "(b)", tagXY: [1036, 583]},
  {name: "INR", data: INR, y: [-0.25, 5.25], yt: ticks0to5, ym: minor0to5, box: [44.6, 649, 647.5, 1090], ty: 632.5, tag: "(c)", tagXY: [332, 1168]},
  {name: "CNH", data: CNH, y: [-0.25, 5.25], yt: ticks0to5, ym: minor0to5, box: [745.3, 647, 1352.6, 1092.8], ty: 630.6, tag: "(d)", tagXY: [1036, 1167]},
  {name: "ZAR", data: ZAR, y: [-0.25, 5.25], yt: ticks0to5, ym: minor0to5, box: [36, 1235, 660, 1690.7], ty: 1218, tag: "(e)", tagXY: [332, 1767]},
  {name: "GASF", data: GASF, y: [0.45, 49.6], yt: ticksGASF, ym: minorGASF, box: [750.6, 1233, 1364.7, 1691.8], ty: 1216, tag: "(f)", tagXY: [1036, 1765]}
];

const page = document.getElementById("page");
const ml = 64, mr = 6, mt = 6, mb = 44;
const fmt = d3.utcFormat("%y/%m");

for (const p of panels) {
  const [L, T, R, B] = p.box;
  const rows = p.data.map(([t, v]) => ({date: dec(t), v}));
  const chart = Plot.plot({
    width: (R - L) + ml + mr,
    height: (B - T) + mt + mb,
    marginLeft: ml, marginRight: mr, marginTop: mt, marginBottom: mb,
    style: {fontFamily: "'Liberation Sans', Arial, sans-serif", fontSize: "23.5px", fontWeight: "bold", color: "#4a4a4a", background: "transparent", overflow: "visible"},
    x: {type: "utc", domain: xRange.map(dec)},
    y: {domain: p.y},
    marks: [
      Plot.ruleX(halfYearTicks.map(dec), {stroke: "#f1f1f1", strokeWidth: 1}),
      Plot.ruleY(p.ym, {stroke: "#f1f1f1", strokeWidth: 1}),
      Plot.ruleX(yearTicks.map(dec), {stroke: "#e8e8e8", strokeWidth: 1.2}),
      Plot.ruleY(p.yt, {stroke: "#e8e8e8", strokeWidth: 1.2}),
      Plot.line(rows, {x: "date", y: "v", stroke: "#00688B", strokeWidth: 1.35}),
      Plot.frame({stroke: "#a8a8a8", strokeWidth: 1.3}),
      Plot.axisX(yearTicks.map(dec), {tickFormat: fmt, tickSize: 4, tickPadding: 3, stroke: "#a8a8a8", label: null}),
      Plot.axisY(p.yt, {tickFormat: d => String(d), tickSize: 4, tickPadding: 2, stroke: "#a8a8a8", label: null})
    ]
  });
  const wrap = document.createElement("div");
  wrap.className = "panel";
  wrap.style.left = (L - ml) + "px";
  wrap.style.top = (T - mt) + "px";
  wrap.appendChild(chart);
  page.appendChild(wrap);

  const title = document.createElement("div");
  title.className = "title";
  title.textContent = p.name;
  title.style.left = ((L + R) / 2) + "px";
  title.style.top = p.ty + "px";
  page.appendChild(title);

  const tag = document.createElement("div");
  tag.className = "tag";
  tag.textContent = p.tag;
  tag.style.left = p.tagXY[0] + "px";
  tag.style.top = p.tagXY[1] + "px";
  page.appendChild(tag);
}
</script>
</body>
</html>
